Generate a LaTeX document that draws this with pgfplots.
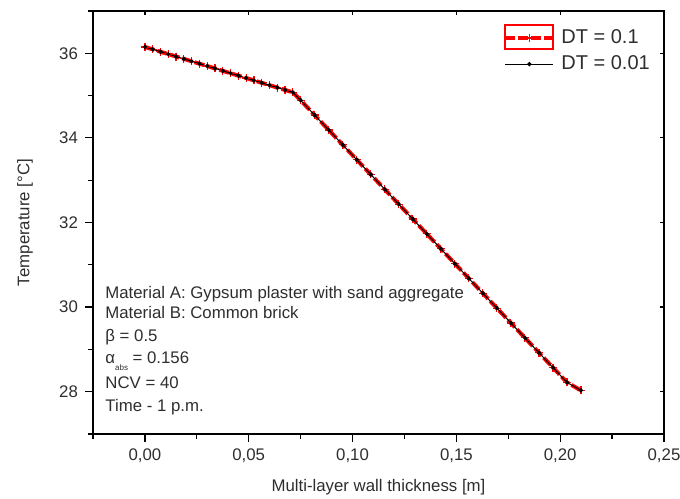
\documentclass[border=0pt]{standalone}
\usepackage{fontspec}
\setmainfont{Liberation Sans}
\usepackage{pgfplots}
\pgfplotsset{compat=1.18}
\usepackage{pgfplotstable}

\pgfplotstableread{
x T
0        36.150
0.00375  36.094
0.0075   36.037
0.01125  35.981
0.015    35.924
0.01875  35.868
0.0225   35.811
0.02625  35.755
0.03     35.698
0.03375  35.642
0.0375   35.585
0.04125  35.529
0.045    35.472
0.04875  35.416
0.0525   35.359
0.05625  35.303
0.06     35.246
0.06375  35.190
0.0675   35.133
0.07125  35.077
0.075    34.890
0.08175  34.539
0.0885   34.188
0.09525  33.837
0.102    33.486
0.10875  33.135
0.1155   32.784
0.12225  32.433
0.129    32.082
0.13575  31.731
0.1425   31.380
0.14925  31.029
0.156    30.678
0.16275  30.327
0.1695   29.976
0.17625  29.625
0.183    29.274
0.18975  28.923
0.1965   28.572
0.20325  28.221
0.21     28.030
}\dtA

\pgfplotstableread{
x T
0        36.150
0.00375  36.094
0.0075   36.037
0.01125  35.981
0.015    35.924
0.01875  35.868
0.0225   35.811
0.02625  35.755
0.03     35.698
0.03375  35.642
0.0375   35.585
0.04125  35.529
0.045    35.472
0.04875  35.416
0.0525   35.359
0.05625  35.303
0.06     35.246
0.06375  35.190
0.0675   35.133
0.07125  35.077
0.075    34.890
0.08175  34.539
0.0885   34.188
0.09525  33.837
0.102    33.486
0.10875  33.135
0.1155   32.784
0.12225  32.433
0.129    32.082
0.13575  31.731
0.1425   31.380
0.14925  31.029
0.156    30.678
0.16275  30.327
0.1695   29.976
0.17625  29.625
0.183    29.274
0.18975  28.923
0.1965   28.572
0.20325  28.221
0.21     28.030
}\dtB

\definecolor{txt}{gray}{0.18}

\begin{document}
\begin{tikzpicture}[x=1pt,y=1pt]
\useasboundingbox (0,0) rectangle (340,249);
\begin{axis}[
  at={(46.5pt,32pt)}, anchor=south west,
  scale only axis, width=285.5pt, height=211.5pt,
  xmin=-0.025, xmax=0.25, ymin=27, ymax=37,
  xtick={0,0.05,0.1,0.15,0.2,0.25},
  minor xtick={-0.025,0.025,0.075,0.125,0.175,0.225},
  ytick={28,30,32,34,36},
  minor ytick={27,29,31,33,35,37},
  xtick pos=bottom, ytick pos=left,
  tick align=outside,
  major tick length=4pt, minor tick length=2.5pt,
  every tick/.style={black, line width=0.6pt},
  axis line style={line width=0.75pt},
  tick label style={font=\fontsize{8.4}{10}\selectfont, text=txt},
  xticklabel style={/pgf/number format/.cd, fixed, fixed zerofill, precision=2, use comma, assume math mode=true},
  yticklabel style={/pgf/number format/.cd, assume math mode=true},
  xlabel={Multi-layer wall thickness [m]},
  ylabel={Temperature [°C]},
  label style={font=\fontsize{8.4}{10}\selectfont, text=txt},
  xlabel style={at={(axis description cs:0.5,-0.1253)}, anchor=center},
  ylabel style={at={(axis description cs:-0.119,0.5)}, anchor=center},
  legend image code/.code={\draw[mark repeat=2,mark phase=2,#1] plot coordinates {(0pt,0pt) (12pt,0pt) (24pt,0pt)};},
  legend style={at={(axis description cs:0.718,0.962)}, anchor=north west, draw=none, fill=none,
    inner sep=0pt, font=\fontsize{10}{12}\selectfont, text=txt,
    nodes={inner sep=1pt}, row sep=2.6pt,
    /tikz/every odd column/.append style={column sep=2pt}},
  legend cell align=left,
]
\addplot[red, line width=2pt, dash pattern=on 5pt off 1.5pt, mark=+, mark size=2pt,
  mark options={solid, line width=0.6pt, red}] table {\dtA};
\addlegendentry{DT = 0.1}
\addplot[black, line width=0.5pt, mark=*, mark size=0.8pt] table {\dtB};
\addlegendentry{DT = 0.01}
\end{axis}
\begin{axis}[
  at={(46.5pt,32pt)}, anchor=south west,
  scale only axis, width=285.5pt, height=211.5pt,
  xmin=-0.025, xmax=0.25, ymin=27, ymax=37,
  xtick={0,0.05,0.1,0.15,0.2,0.25},
  ytick={28,30,32,34,36},
  xtick pos=top, ytick pos=right,
  tick align=inside,
  major tick length=2pt,
  every tick/.style={black, line width=0.6pt},
  axis line style={line width=0.75pt},
  xticklabels={}, yticklabels={},
]
\end{axis}
\draw[red, line width=0.6pt] (252.5,224.5) rectangle (276.5,236.5);
\begin{scope}[every node/.style={anchor=base west, inner sep=0pt, text=txt, font=\fontsize{8.4}{10}\selectfont}]
\node at (52.5,99.6) {Material A: Gypsum plaster with sand aggregate};
\node at (52.5,89.5) {Material B: Common brick};
\node at (52.5,78.0) {β = 0.5};
\node at (52.5,67.0) {α\raisebox{-0.7ex}{\fontsize{4}{4}\selectfont abs}\ = 0.156};
\node at (52.5,54.5) {NCV = 40};
\node at (52.5,43.0) {Time - 1 p.m.};
\end{scope}
\end{tikzpicture}
\end{document}
